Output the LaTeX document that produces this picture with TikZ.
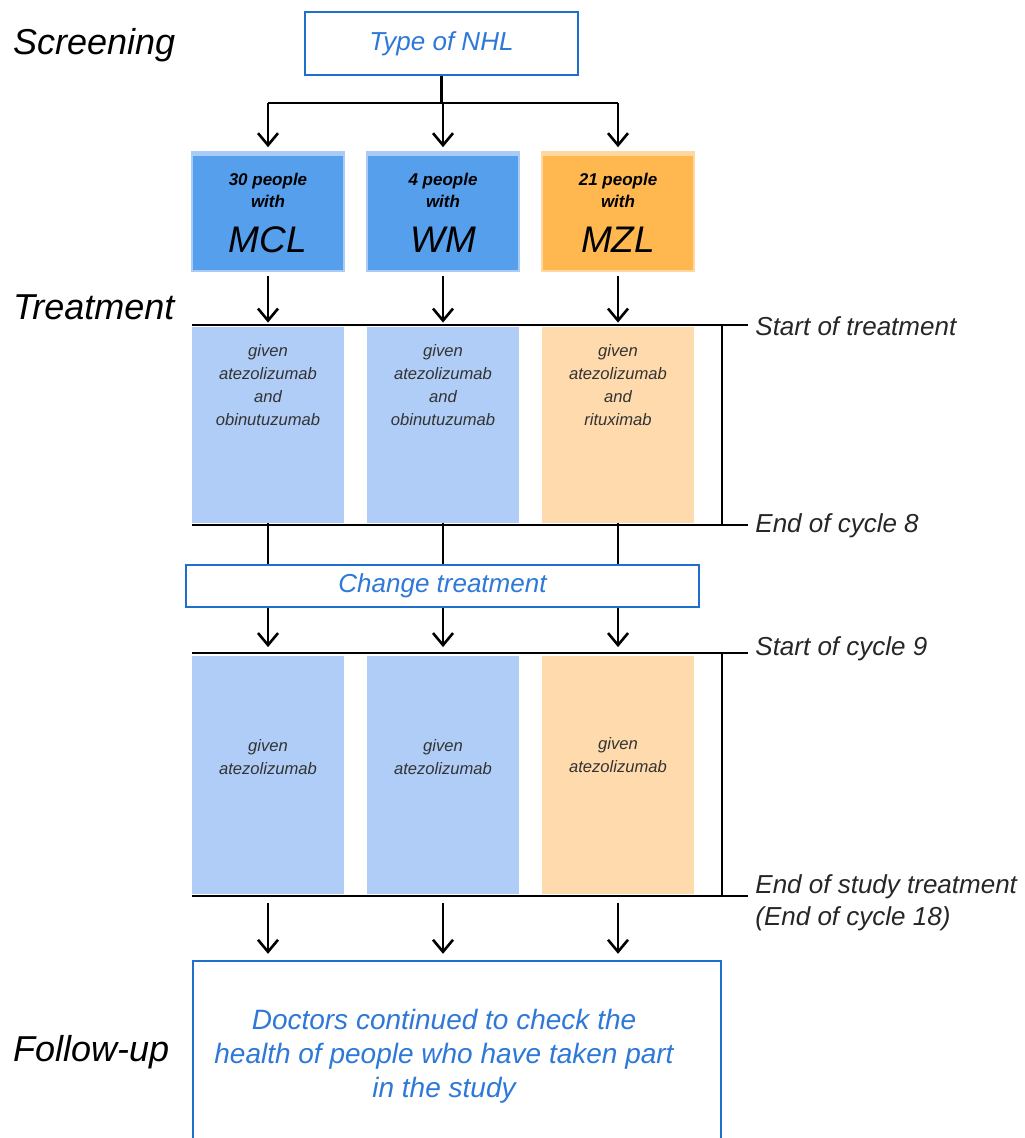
\documentclass[tikz,border=0pt]{standalone}
\usepackage{fontspec}
\setmainfont{Liberation Sans}
\usetikzlibrary{arrows.meta}
\definecolor{boxblue}{HTML}{569FED}
\definecolor{stripblue}{HTML}{A9CBF5}
\definecolor{lightblue}{HTML}{AFCDF6}
\definecolor{boxorange}{HTML}{FFB850}
\definecolor{striporange}{HTML}{FFD8A0}
\definecolor{lightorange}{HTML}{FEDAAC}
\definecolor{frameblue}{HTML}{1F6FCC}
\definecolor{textblue}{HTML}{2E78D8}
\tikzset{
  ln/.style={line width=1.3pt, black},
  arr/.style={ln, -{Straight Barb[length=6pt,width=10pt]}},
  framebox/.style={draw=frameblue, line width=1.2pt, fill=white, inner sep=0pt},
  groupbox/.style={inner sep=0pt, minimum width=76pt, minimum height=59.5pt},
  bluegroup/.style={groupbox, fill=boxblue, draw=stripblue, line width=0.8pt,
    path picture={\fill[stripblue] (path picture bounding box.north west) rectangle ([yshift=-2.2pt]path picture bounding box.north east);}},
  orangegroup/.style={groupbox, fill=boxorange, draw=striporange, line width=0.8pt,
    path picture={\fill[striporange] (path picture bounding box.north west) rectangle ([yshift=-2.2pt]path picture bounding box.north east);}},
  armbox/.style={inner sep=0pt, minimum width=76pt},
  phase/.style={anchor=west, font=\itshape\fontsize{18}{22}\selectfont},
  timelbl/.style={anchor=west, align=left, inner sep=0pt, font=\itshape\fontsize{13}{16}\selectfont, text=black!85},
  armtxt/.style={align=center, font=\itshape\fontsize{8.3}{11.5}\selectfont, text=black!80},
  grptop/.style={align=center, font=\bfseries\itshape\fontsize{8.5}{11}\selectfont},
  grpbig/.style={font=\itshape\fontsize{18.5}{20}\selectfont},
}
\begin{document}
\begin{tikzpicture}[x=0.5pt,y=-0.5pt]
\useasboundingbox (0,0) rectangle (1024,1138);
\clip (0,0) rectangle (1024,1138);

% phase labels
\node[phase] (screening) at (6,45) {Screening};
\node[phase] (treatment) at (6,307) {Treatment};
\node[phase] (followup) at (6,1052) {Follow-up};

% top box
\node[framebox, minimum width=136.5pt, minimum height=31.5pt,
      font=\itshape\fontsize{13}{15}\selectfont, text=textblue] (nhl) at (441.5,43.5) {Type of NHL};

% group boxes
\node[bluegroup] (mcl) at (268,211.5) {};
\node[bluegroup] (wm) at (443,211.5) {};
\node[orangegroup] (mzl) at (618,211.5) {};
\node[grptop] (mclA) at (268,190) {30 people\\with};
\node[grpbig] (mclB) at (268,240) {MCL};
\node[grptop] (wmA) at (443,190) {4 people\\with};
\node[grpbig] (wmB) at (443,240) {WM};
\node[grptop] (mzlA) at (618,190) {21 people\\with};
\node[grpbig] (mzlB) at (618,240) {MZL};

% connectors from top box
\coordinate (split) at (441.5,103);
\draw[ln] (nhl.south) -- (split);
\draw[ln] (mcl.north |- split) -- (mzl.north |- split);
\draw[arr, shorten >=2pt] (mcl.north |- split) -- (mcl.north);
\draw[arr, shorten >=2pt] (wm.north |- split) -- (wm.north);
\draw[arr, shorten >=2pt] (mzl.north |- split) -- (mzl.north);

% treatment phase boxes
\node[armbox, fill=lightblue, minimum height=98pt] (t1) at (268,425) {};
\node[armbox, fill=lightblue, minimum height=98pt] (t2) at (443,425) {};
\node[armbox, fill=lightorange, minimum height=98pt] (t3) at (618,425) {};
\node[armtxt] (t1txt) at (268,385) {given\\atezolizumab\\and\\obinutuzumab};
\node[armtxt] (t2txt) at (443,385) {given\\atezolizumab\\and\\obinutuzumab};
\node[armtxt] (t3txt) at (618,385) {given\\atezolizumab\\and\\rituximab};

\draw[arr, shorten <=2pt, shorten >=2pt] (mcl.south) -- (t1.north);
\draw[arr, shorten <=2pt, shorten >=2pt] (wm.south) -- (t2.north);
\draw[arr, shorten <=2pt, shorten >=2pt] (mzl.south) -- (t3.north);

% timeline bracket 1
\coordinate (s1) at (748,325);
\coordinate (e1) at (748,525);
\draw[ln] (t1.north west |- s1) -- (s1);
\draw[ln] (t1.north west |- e1) -- (e1);
\draw[ln] (722,325) -- (722,525);
\node[timelbl] (startlbl) at (755,326) {Start of treatment};
\node[timelbl] (end8lbl) at (755,526) {End of cycle 8};

% change treatment box
\node[framebox, minimum width=256.5pt, minimum height=21pt,
      font=\itshape\fontsize{13}{15}\selectfont, text=textblue] (chg) at (442.5,586) {Change treatment};
\draw[ln] (t1.south) -- (t1.south |- chg.north);
\draw[ln] (t2.south) -- (t2.south |- chg.north);
\draw[ln] (t3.south) -- (t3.south |- chg.north);

% maintenance boxes
\node[armbox, fill=lightblue, minimum height=119pt] (m1) at (268,774.5) {};
\node[armbox, fill=lightblue, minimum height=119pt] (m2) at (443,774.5) {};
\node[armbox, fill=lightorange, minimum height=119pt] (m3) at (618,774.5) {};
\node[armtxt] (m1txt) at (268,757.5) {given\\atezolizumab};
\node[armtxt] (m2txt) at (443,757.5) {given\\atezolizumab};
\node[armtxt] (m3txt) at (618,755) {given\\atezolizumab};

\draw[arr, shorten >=4pt] (t1.south |- chg.south) -- (m1.north);
\draw[arr, shorten >=4pt] (t2.south |- chg.south) -- (m2.north);
\draw[arr, shorten >=4pt] (t3.south |- chg.south) -- (m3.north);

% timeline bracket 2
\coordinate (s2) at (748,653);
\coordinate (e2) at (748,896);
\draw[ln] (m1.north west |- s2) -- (s2);
\draw[ln] (m1.north west |- e2) -- (e2);
\draw[ln] (722,653) -- (722,896);
\node[timelbl] (start9lbl) at (755,649) {Start of cycle 9};
\node[timelbl] (endlbl) at (755,903) {End of study treatment\\(End of cycle 18)};

% follow-up box
\node[framebox, minimum width=264pt, minimum height=92pt] (fu) at (457,1053) {};
\node[align=center, font=\itshape\fontsize{14}{17}\selectfont, text=textblue] (futxt) at (444,1056)
  {Doctors continued to check the\\health of people who have taken part\\in the study};

\draw[arr, shorten <=4.5pt, shorten >=3pt] (m1.south) -- (m1.south |- fu.north);
\draw[arr, shorten <=4.5pt, shorten >=3pt] (m2.south) -- (m2.south |- fu.north);
\draw[arr, shorten <=4.5pt, shorten >=3pt] (m3.south) -- (m3.south |- fu.north);
\end{tikzpicture}
\end{document}
